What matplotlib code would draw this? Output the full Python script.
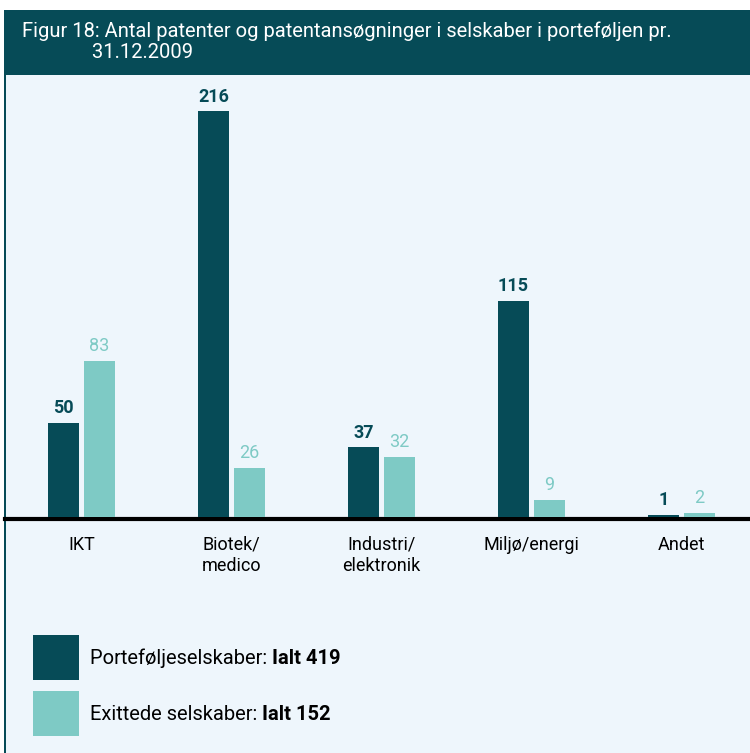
import matplotlib.pyplot as plt
from matplotlib.patches import Rectangle

plt.rcParams['font.family'] = ['Roboto', 'DejaVu Sans']

# data
categories = ["IKT", "Biotek/\nmedico", "Industri/\nelektronik", "Miljø/energi", "Andet"]
portfolio = [50, 216, 37, 115, 1]
exited = [83, 26, 32, 9, 2]
legend_labels = ["Porteføljeselskaber: ", "Exittede selskaber: "]
legend_totals = ["Ialt 419", "Ialt 152"]
title = "Figur 18: Antal patenter og patentansøgninger i selskaber i porteføljen pr.\n              31.12.2009"

dark = "#064b57"
light = "#7ecac5"
bg = "#eef6fc"

W, H = 750, 753
fig = plt.figure(figsize=(W / 100, H / 100), dpi=100)
fig.patch.set_facecolor("white")


def fx(px):
    return px / W


def fy(py):
    return 1 - py / H


# background panel, border and header band
fig.patches.append(Rectangle((fx(5), 0), fx(745), fy(10), transform=fig.transFigure,
                             facecolor=bg, edgecolor="none", zorder=0))
fig.patches.append(Rectangle((fx(4), 0), fx(1.5), fy(10), transform=fig.transFigure,
                             facecolor=dark, edgecolor="none", zorder=1))
fig.patches.append(Rectangle((fx(4), fy(75)), fx(746), fy(10) - fy(75),
                             transform=fig.transFigure, facecolor=dark,
                             edgecolor="none", zorder=1))
fig.text(fx(22), fy(42), title, color="white", fontsize=14.5, va="center",
         ha="left", linespacing=1.15)

# bar axes (baseline spine sits just under the bars)
ax = fig.add_axes([fx(5), fy(519), fx(745), fy(80) - fy(519)])
ax.set_zorder(5)
ax.set_facecolor("none")
x = list(range(len(categories)))
w = 0.207
off = 0.12
ax.bar([i - off for i in x], portfolio, width=w, color=dark, zorder=2)
ax.bar([i + off for i in x], exited, width=w, color=light, zorder=2)
for i in x:
    ax.annotate(str(portfolio[i]), (i - off, portfolio[i]), xytext=(0, 4),
                textcoords="offset points", ha="center", va="bottom",
                color=dark, fontsize=13, fontweight="bold")
    ax.annotate(str(exited[i]), (i + off, exited[i]), xytext=(0, 4),
                textcoords="offset points", ha="center", va="bottom",
                color=light, fontsize=13)
ax.set_xlim(-0.51, 4.457)
ax.set_ylim(-1.2, 232.6)
for s in ["top", "right", "left"]:
    ax.spines[s].set_visible(False)
ax.spines["bottom"].set_linewidth(3)
ax.spines["bottom"].set_color("black")
ax.spines["bottom"].set_zorder(1)
ax.set_yticks([])
ax.set_xticks(x)
ax.set_xticklabels(categories, fontsize=13, color="black", linespacing=1.25,
                   va="top")
ax.tick_params(axis="x", length=0, pad=12)

# legend
for k, (lab, tot, col) in enumerate(zip(legend_labels, legend_totals, [dark, light])):
    top = 635 + k * 56
    fig.patches.append(Rectangle((fx(33), fy(top + 45)), fx(46), fy(top) - fy(top + 45),
                                 transform=fig.transFigure, facecolor=col,
                                 edgecolor="none", zorder=2))
    t = fig.text(fx(90), fy(top + 23), lab, fontsize=14.5, va="center", ha="left")
    fig.canvas.draw()
    fig.text(fx(90), fy(top + 23), tot, fontsize=14.5, va="center", ha="left",
             fontweight="bold")
    bb = t.get_window_extent()
    fig.texts[-1].set_x(bb.x1 / fig.bbox.width)

fig.savefig("out.png", dpi=100, facecolor=fig.get_facecolor())
